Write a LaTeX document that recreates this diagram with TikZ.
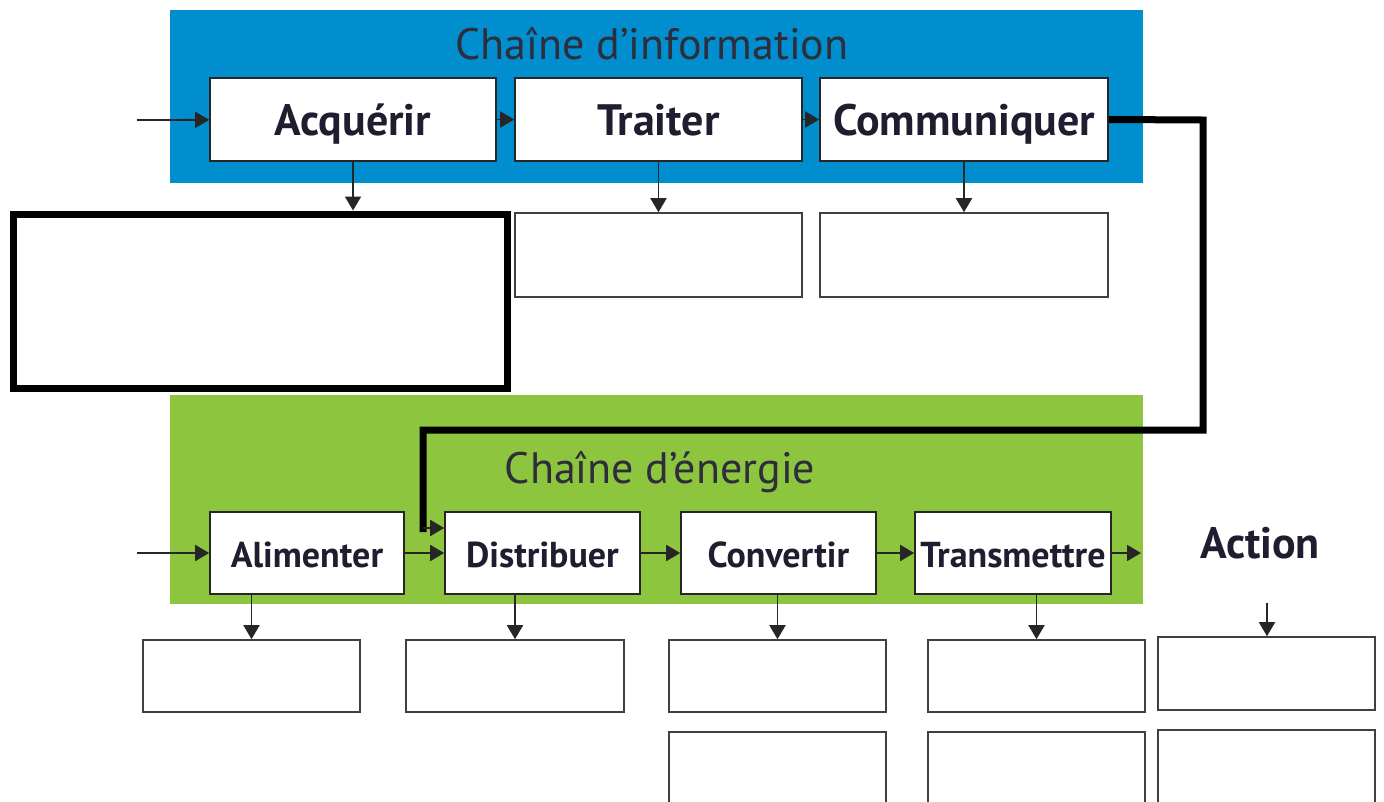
\documentclass[tikz,border=0pt]{standalone}
\usepackage{fontspec}
\setmainfont{PT Sans}
\usetikzlibrary{arrows.meta, positioning}

\begin{document}
\begin{tikzpicture}[x=1pt, y=-1pt,
        % line join=miter,
        fonction/.style={draw=black!85,line width=1.6pt,fill=white,inner sep=0pt,
            text height=34pt,text depth=6pt,
            font=\fontsize{36}{40}\selectfont\bfseries,text=textcolor},
        fonction info/.style={fonction,text height=40pt,text depth=8pt,
            font=\fontsize{44}{48}\selectfont\bfseries},
        vide/.style={draw=black!75,line width=1.6pt,fill=white,inner sep=0pt},
        fleche/.style={-{Triangle[length=14pt,width=16pt]},draw=black!85,line width=1.8pt},
        titre/.style={font=\fontsize{44}{48}\selectfont,text=titlecolor},]

        \definecolor{bleuinfo}{RGB}{0, 142, 207}
        \definecolor{vertenergie}{RGB}{141, 197, 63}
        \definecolor{textcolor}{RGB}{30, 30, 48}
        \definecolor{titlecolor}{RGB}{45, 45, 60}

        \clip (0,0) rectangle (1384,801);
        \fill[white] (0,0) rectangle (1384,801);

        % chaine d'information
        \fill[bleuinfo] (170,10) rectangle (1143,183);
        \node[titre] (titre_info) at (652,44) {Chaîne d’information};

        \node[fonction info, minimum width=286, minimum height=83] (acquerir) at (353,119.5) {Acquérir};
        \node[fonction info, minimum width=287, minimum height=83] (traiter) at (658.5,119.5) {Traiter};
        \node[fonction info, minimum width=288, minimum height=83] (communiquer) at (964,119.5) {Communiquer};

        \node[draw=black, line width=7pt, fill=white, inner sep=0pt, minimum width=494, minimum height=174] (acquerir_b) at (260,301) {};
        \node[vide, minimum width=287, minimum height=84] (traiter_b) at (658.5,255) {};
        \node[vide, minimum width=288, minimum height=84] (communiquer_b) at (964,255) {};

        % chaine d'energie
        \fill[vertenergie] (170,395) rectangle (1143,604);
        \node[titre] (titre_energie) at (660,472) {Chaîne d’énergie};

        \node[fonction, minimum width=194, minimum height=82] (alimenter) at (307,553) {Alimenter};
        \node[fonction, minimum width=195, minimum height=82] (distribuer) at (542.5,553) {Distribuer};
        \node[fonction, minimum width=195, minimum height=82] (convertir) at (778.5,553) {Convertir};
        \node[fonction, minimum width=196, minimum height=82] (transmettre) at (1013,553) {Transmettre};
        \node[font=\fontsize{44}{48}\selectfont\bfseries, text=textcolor] (action) at (1260,543) {Action};

        \node[vide, minimum width=217, minimum height=72] (alimenter_b) at (251.5,676) {};
        \node[vide, minimum width=218, minimum height=72] (distribuer_b) at (515,676) {};
        \node[vide, minimum width=217, minimum height=72] (convertir_b) at (777.5,676) {};
        \node[vide, minimum width=217, minimum height=72] (transmettre_b) at (1036.5,676) {};
        \node[vide, minimum width=217, minimum height=73] (action_b) at (1266.5,673.5) {};
        \node[vide, minimum width=217, minimum height=80] (convertir_c) at (777.5,772) {};
        \node[vide, minimum width=217, minimum height=80] (transmettre_c) at (1036.5,772) {};
        \node[vide, minimum width=217, minimum height=80] (action_c) at (1266.5,770) {};

        \coordinate (entree_info) at (137,120);
        \coordinate (entree_energie) at (137,553);
        \coordinate (sortie) at (1141,553);
        \coordinate (action_in) at (1267,603);
        \coordinate (coude) at (423,528);

        \draw[fleche] (entree_info) -- (acquerir);
        \draw[fleche] (acquerir) -- (traiter);
        \draw[fleche] (traiter) -- (communiquer);
        \draw[fleche] (acquerir.south) -- (acquerir.south |- acquerir_b.north);
        \draw[fleche] (traiter.south) -- (traiter.south |- traiter_b.north);
        \draw[fleche] (communiquer.south) -- (communiquer.south |- communiquer_b.north);

        \draw[line width=7pt] (communiquer.east) -- (1203,120) -- (1203,430) -- (423,430) -- (423,532);
        \draw[fleche] (coude) -- (coude -| distribuer.west);

        \draw[fleche] (entree_energie) -- (alimenter);
        \draw[fleche] (alimenter) -- (distribuer);
        \draw[fleche] (distribuer) -- (convertir);
        \draw[fleche] (convertir) -- (transmettre);
        \draw[fleche] (transmettre) -- (sortie);
        \draw[fleche] (alimenter.south -| alimenter_b.north) -- (alimenter_b.north);
        \draw[fleche] (distribuer.south -| distribuer_b.north) -- (distribuer_b.north);
        \draw[fleche] (convertir.south -| convertir_b.north) -- (convertir_b.north);
        \draw[fleche] (transmettre.south -| transmettre_b.north) -- (transmettre_b.north);
        \draw[fleche] (action_in) -- (action_in |- action_b.north);

\end{tikzpicture}
\end{document}
